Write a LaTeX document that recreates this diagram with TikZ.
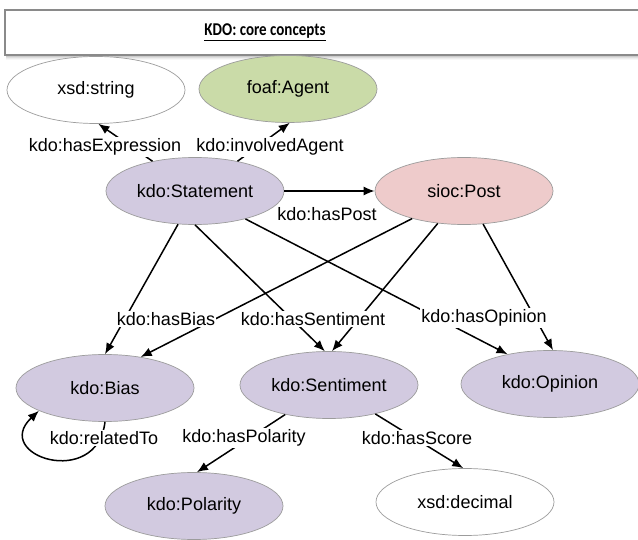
\documentclass[tikz,border=0pt]{standalone}
\usepackage{fontspec}
\setmainfont{Liberation Sans}
\newfontfamily\titlefont{Carlito}
\usetikzlibrary{shapes.geometric,arrows.meta}

\definecolor{kdopurple}{HTML}{D2CAE0}
\definecolor{foafgreen}{HTML}{CADBA8}
\definecolor{siocpink}{HTML}{EECBCB}
\definecolor{rimgray}{HTML}{9C9C9C}
\definecolor{framegray}{HTML}{8A8A8A}

\tikzset{
  concept/.style={ellipse, draw=rimgray, line width=0.7pt, minimum width=178pt,
    minimum height=67pt, inner sep=0pt, font=\fontsize{18}{20}\selectfont},
  purpleconcept/.style={concept, fill=kdopurple},
  literal/.style={concept, fill=white},
  edge/.style={line width=1.5pt, -{Latex[length=11pt,width=9pt]}},
  lbl/.style={fill=white, inner sep=1.2pt, font=\fontsize{18}{20}\selectfont},
}

\begin{document}
\begin{tikzpicture}[x=1pt,y=-1pt]
\useasboundingbox (0,0) rectangle (638,540);
\fill[white] (0,0) rectangle (638,540);

% title banner with a soft shadow along its lower edge
\foreach \k/\o in {1/0.28,2/0.2,3/0.13,4/0.07,5/0.03}
  \draw[black, opacity=\o, line width=1pt] (6,55+\k) -- (650,55+\k);
\draw[framegray, line width=1.8pt, fill=white] (5,10) rectangle (650,55);
\node[font=\titlefont\bfseries\fontsize{15}{18}\selectfont] (title) at (265,32)
  {\scalebox{1}[1.2]{\underline{KDO: core concepts}}};

% concepts
\node[literal]       (xsdstr)  at (96,90)   {xsd:string};
\node[concept, fill=foafgreen] (agent) at (288,89) {foaf:Agent};
\node[purpleconcept] (stmt)    at (195,191) {kdo:Statement};
\node[concept, fill=siocpink] (post) at (464,191) {sioc:Post};
\node[purpleconcept] (bias)    at (105,388) {kdo:Bias};
\node[purpleconcept] (sent)    at (329,385) {kdo:Sentiment};
\node[purpleconcept] (opin)    at (550,384) {kdo:Opinion};
\node[purpleconcept] (polar)   at (194,506) {kdo:Polarity};
\node[literal]       (xsddec)  at (465,502) {xsd:decimal};

% properties
\draw[edge] (stmt.145) -- (xsdstr.-86);
\draw[edge] (stmt.35)  -- (agent.-87);
\draw[edge] (stmt.east) -- (post.west);
\draw[edge] (stmt.-117) -- (bias.90);
\draw[edge] (stmt.270) -- (sent.97);
\draw[edge] (stmt.-29) -- (opin.145);
\draw[edge] (post.208) -- (bias.41);
\draw[edge] (post.231) -- (sent.85);
\draw[edge] (post.-60) -- (opin.85);
\draw[edge] (sent.214) -- (polar.85);
\draw[edge] (sent.-32) -- (xsddec.93);
\draw[edge] (bias.270) .. controls +(-8,68) and +(-48,45) .. (bias.199);

% property labels
\node[lbl] (lexpr)   at (105,147) {kdo:hasExpression};
\node[lbl] (lagent)  at (270,147) {kdo:involvedAgent};
\node[lbl] (lpost)   at (327,214) {kdo:hasPost};
\node[lbl] (lbias)   at (166,319) {kdo:hasBias};
\node[lbl] (lsent)   at (313,319) {kdo:hasSentiment};
\node[lbl] (lopin)   at (484,318) {kdo:hasOpinion};
\node[lbl] (lrel)    at (104,438) {kdo:relatedTo};
\node[lbl] (lpolar)  at (244,438) {kdo:hasPolarity};
\node[lbl] (lscore)  at (417,438) {kdo:hasScore};
\end{tikzpicture}
\end{document}
